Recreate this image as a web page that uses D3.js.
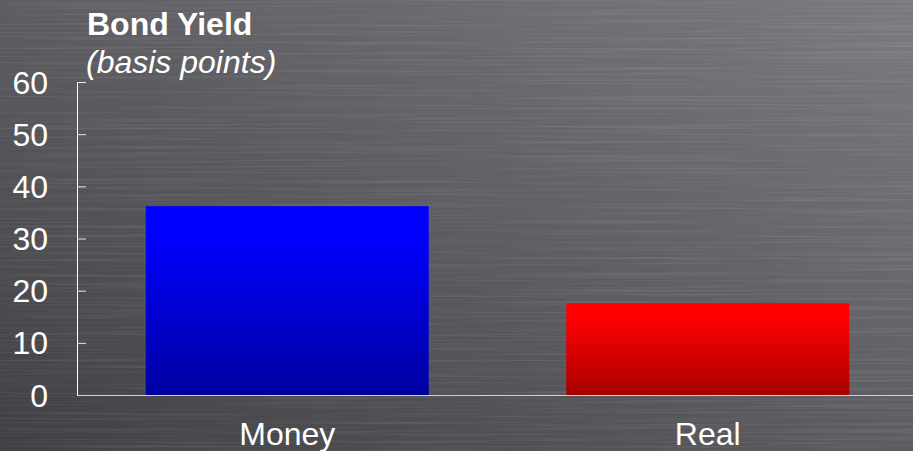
<!DOCTYPE html>
<html>
<head>
<meta charset="utf-8">
<script src="https://cdn.jsdelivr.net/npm/d3@7"></script>
<style>
  html, body { margin: 0; padding: 0; background: #56565b; }
  svg { display: block; font-family: "Liberation Sans", Arial, sans-serif; }
</style>
</head>
<body>
<svg id="chart" width="913" height="451"></svg>
<script>
// Bond yield change by type, in basis points
const categories = ["Money", "Real"];
const values = [36.2, 17.6];
const yTicks = [0, 10, 20, 30, 40, 50, 60];
const barColors = [["#0000ff", "#0000a2"], ["#ff0000", "#a80000"]];

const W = 913, H = 451;
const svg = d3.select("#chart");
const defs = svg.append("defs");

// brushed-metal backdrop
const bg = defs.append("linearGradient").attr("id", "bg")
  .attr("x1", 0).attr("y1", 1).attr("x2", 1).attr("y2", 0);
bg.append("stop").attr("offset", 0).attr("stop-color", "#404044");
bg.append("stop").attr("offset", 0.5).attr("stop-color", "#5c5c61");
bg.append("stop").attr("offset", 1).attr("stop-color", "#7a7a80");

const streak = defs.append("filter").attr("id", "streak")
  .attr("x", 0).attr("y", 0).attr("width", "100%").attr("height", "100%");
streak.append("feTurbulence").attr("type", "fractalNoise")
  .attr("baseFrequency", "0.004 0.5").attr("numOctaves", 3).attr("seed", 7);
streak.append("feColorMatrix").attr("type", "matrix")
  .attr("values", "0 0 0 0 1  0 0 0 0 1  0 0 0 0 1  1.2 0 0 0 -0.55");

svg.append("rect").attr("width", W).attr("height", H).attr("fill", "url(#bg)");
svg.append("rect").attr("width", W).attr("height", H)
  .attr("filter", "url(#streak)").attr("opacity", 0.2);

// bar gradients
barColors.forEach((c, i) => {
  const g = defs.append("linearGradient").attr("id", "bar" + i)
    .attr("x1", 0).attr("y1", 0).attr("x2", 0).attr("y2", 1);
  g.append("stop").attr("offset", 0).attr("stop-color", c[0]);
  g.append("stop").attr("offset", 0.15).attr("stop-color", c[0]);
  g.append("stop").attr("offset", 1).attr("stop-color", c[1]);
});

const x = d3.scaleBand().domain(categories).range([77, 918])
  .paddingInner(0.327).paddingOuter(0.1635);
const y = d3.scaleLinear().domain([0, 60]).range([395, 82]);

// bars
svg.selectAll("rect.bar").data(categories).join("rect")
  .attr("class", "bar")
  .attr("x", d => x(d))
  .attr("width", x.bandwidth())
  .attr("y", (d, i) => y(values[i]))
  .attr("height", (d, i) => y(0) - y(values[i]))
  .attr("fill", (d, i) => `url(#bar${i})`);

// y axis
const yAxis = svg.append("g").attr("transform", "translate(77,0)")
  .call(d3.axisRight(y).tickValues(yTicks).tickSize(9).tickFormat(""));
yAxis.select(".domain").attr("stroke", "#ffffff").attr("stroke-width", 1)
  .attr("d", `M0.5,${y(60)}V${y(0)}`);
yAxis.selectAll(".tick line").attr("stroke", "#e8e8e8").attr("stroke-width", 1);

svg.append("g").selectAll("text").data(yTicks).join("text")
  .attr("x", 48).attr("y", d => y(d)).attr("dy", "0.36em")
  .attr("text-anchor", "end").attr("fill", "#ffffff")
  .attr("font-size", 32).text(d => d);

// x axis baseline
svg.append("line").attr("x1", 77).attr("x2", W).attr("y1", y(0) + 0.5).attr("y2", y(0) + 0.5)
  .attr("stroke", "#d0d0d0").attr("stroke-width", 1);

// category labels
svg.append("g").selectAll("text").data(categories).join("text")
  .attr("x", d => x(d) + x.bandwidth() / 2).attr("y", 445)
  .attr("text-anchor", "middle").attr("fill", "#ffffff")
  .attr("font-size", 32).text(d => d);

// titles
svg.append("text").attr("x", 87).attr("y", 35).attr("fill", "#ffffff")
  .attr("font-size", 32).attr("font-weight", "bold").text("Bond Yield");
svg.append("text").attr("x", 86).attr("y", 73).attr("fill", "#ffffff")
  .attr("font-size", 32).attr("font-style", "italic").text("(basis points)");
</script>
</body>
</html>
